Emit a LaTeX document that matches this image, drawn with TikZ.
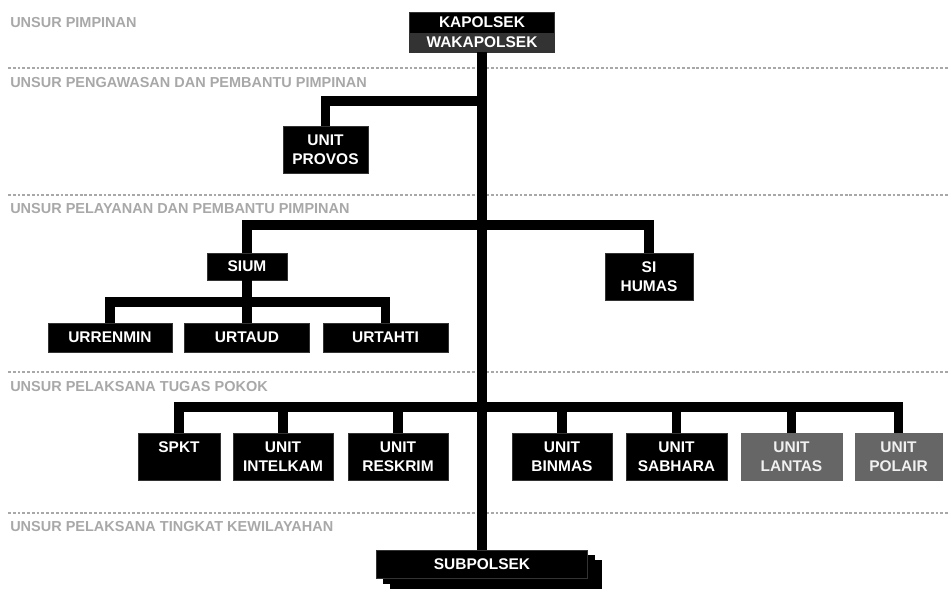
\documentclass[tikz,border=0pt]{standalone}
\usepackage{fontspec}
\setmainfont{Liberation Sans}
\usepackage{tikz}
\usetikzlibrary{positioning,shadows}
\definecolor{wakagray}{HTML}{333333}
\definecolor{unitgray}{HTML}{666666}
\definecolor{bandgray}{HTML}{A8A8A8}

\begin{document}
\begin{tikzpicture}[x=0.025cm, y=-0.025cm,
    unit/.style={rectangle, fill=black, draw=black!80, text=white, align=center, inner sep=0pt, minimum height=0.725cm, font=\fontsize{11}{13.5}\selectfont\bfseries},
    tall/.style={unit, minimum height=1.175cm},
    grayunit/.style={tall, fill=unitgray, draw=unitgray, text=black!6},
    band/.style={anchor=west, inner sep=0pt, text=bandgray, font=\fontsize{10.3}{12}\selectfont\bfseries},
    sep/.style={bandgray, dash pattern=on 2pt off 1.4pt, line width=1.1pt},
    link/.style={line width=6.5pt, line join=miter}
]
    \useasboundingbox (0,0) rectangle (948,589);

    % section bands
    \draw[sep] (8,68)  -- (948,68);
    \draw[sep] (8,195) -- (948,195);
    \draw[sep] (8,372) -- (948,372);
    \draw[sep] (8,513) -- (948,513);
    \node[band] (lblpimpinan) at (10,23)  {UNSUR PIMPINAN};
    \node[band] (lblawas)     at (10,83)  {UNSUR PENGAWASAN DAN PEMBANTU PIMPINAN};
    \node[band] (lbllayan)    at (10,209) {UNSUR PELAYANAN DAN PEMBANTU PIMPINAN};
    \node[band] (lblpokok)    at (10,387) {UNSUR PELAKSANA TUGAS POKOK};
    \node[band] (lblwilayah)  at (10,527) {UNSUR PELAKSANA TINGKAT KEWILAYAHAN};

    % pimpinan
    \node[unit, minimum width=3.625cm, minimum height=0.525cm] (kapolsek) at (482,22.5) {KAPOLSEK};
    \node[unit, minimum width=3.625cm, minimum height=0.475cm, fill=wakagray, draw=wakagray] (wakapolsek) at (482,42.5) {WAKAPOLSEK};

    % pengawasan / pelayanan
    \node[tall, minimum width=2.125cm] (provos) at (325.5,150)   {UNIT\\PROVOS};
    \node[unit, minimum width=2cm, minimum height=0.675cm] (sium) at (247,266.5) {SIUM};
    \node[tall, minimum width=2.2cm]   (humas)  at (649,276.5)   {SI\\HUMAS};
    \node[unit, minimum width=3.1cm]   (urrenmin) at (110,337.5) {URRENMIN};
    \node[unit, minimum width=3.125cm] (urtaud)   at (247,337.5) {URTAUD};
    \node[unit, minimum width=3.125cm] (urtahti)  at (385.5,337.5) {URTAHTI};

    % tugas pokok
    \node[tall, minimum width=2.05cm]     (spkt)     at (179,456.5)   {SPKT\\~};
    \node[tall, minimum width=2.5cm]      (intelkam) at (283,456.5)   {UNIT\\INTELKAM};
    \node[tall, minimum width=2.5cm]      (reskrim)  at (398,456.5)   {UNIT\\RESKRIM};
    \node[tall, minimum width=2.5cm]      (binmas)   at (562,456.5)   {UNIT\\BINMAS};
    \node[tall, minimum width=2.525cm]    (sabhara)  at (676.5,456.5) {UNIT\\SABHARA};
    \node[grayunit, minimum width=2.525cm] (lantas)  at (791.5,456.5) {UNIT\\LANTAS};
    \node[grayunit, minimum width=2.175cm] (polair)  at (898.5,456.5) {UNIT\\POLAIR};

    % kewilayahan
    \node[unit, minimum width=5.275cm, minimum height=0.7cm,
          double copy shadow={shadow xshift=5pt, shadow yshift=-3.6pt, fill=black, draw=black, opacity=1}]
          (subpolsek) at (482,564) {SUBPOLSEK};

    % junctions on the trunk
    \coordinate (jprovos) at (482,101);
    \coordinate (jlayan)  at (482,225);
    \coordinate (jsium)   at (247,302);
    \coordinate (jpokok)  at (482,407);

    \draw[link, line width=7pt] (wakapolsek.south) -- (subpolsek.north);
    \draw[link] (jprovos) -| (provos.north);
    \draw[link] (sium.north) |- (jlayan) -| (humas.north);
    \draw[link] (urrenmin.north) |- (jsium) -| (urtahti.north);
    \draw[link] (sium.south) -- (urtaud.north);
    \draw[link] (spkt.north) |- (jpokok) -| (polair.north);
    \draw[link] (intelkam.north) -- (intelkam.north |- jpokok);
    \draw[link] (reskrim.north) -- (reskrim.north |- jpokok);
    \draw[link] (binmas.north) -- (binmas.north |- jpokok);
    \draw[link] (sabhara.north) -- (sabhara.north |- jpokok);
    \draw[link] (lantas.north) -- (lantas.north |- jpokok);
\end{tikzpicture}
\end{document}
